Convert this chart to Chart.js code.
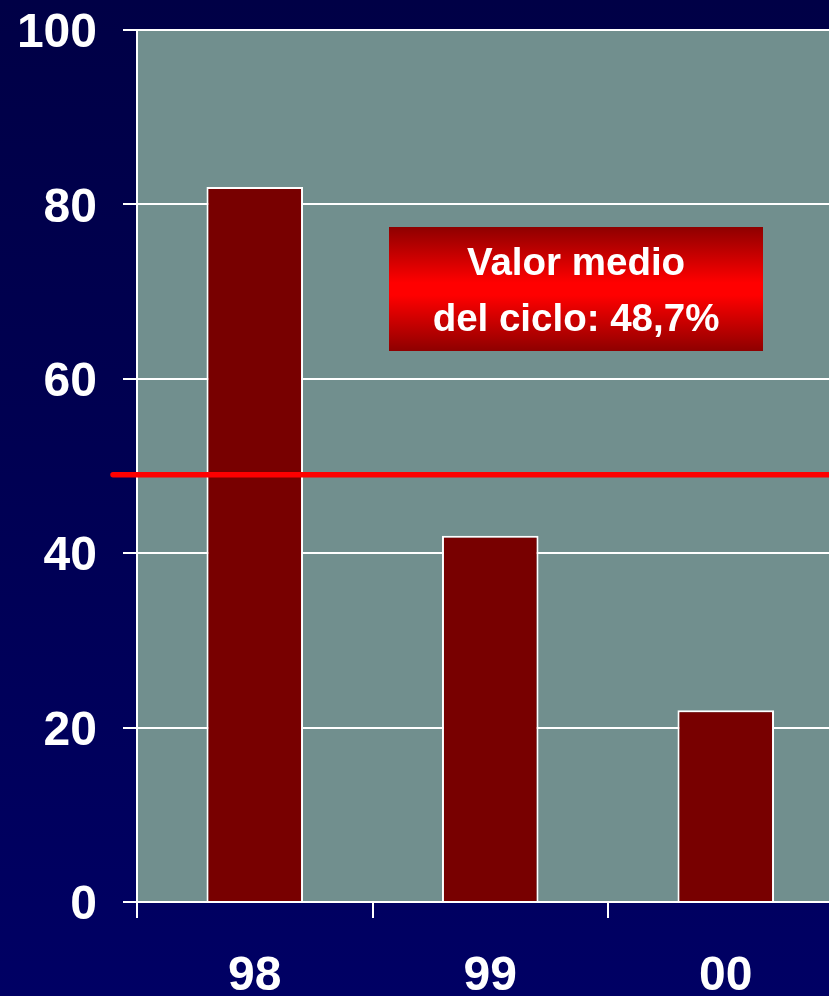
<!DOCTYPE html>
<html>
<head>
<meta charset="utf-8">
<script src="https://cdn.jsdelivr.net/npm/chart.js@4/dist/chart.umd.min.js"></script>
<style>
  html, body { margin: 0; padding: 0; }
  body {
    width: 829px; height: 996px; overflow: hidden;
    background: linear-gradient(to bottom, #000046 0%, #000052 45%, #000064 100%);
  }
  #wrap { width: 850px; height: 996px; }
</style>
</head>
<body>
<div id="wrap"><canvas id="myChart" width="850" height="996"></canvas></div>
<script>
// Data
const years = ["98", "99", "00"];
const values = [82, 42, 22];
const yTicks = [0, 20, 40, 60, 80, 100];
const meanValue = 49;
const noteLines = ["Valor medio", "del ciclo: 48,7%"];

// Plot background
const plotBg = {
  id: "plotBg",
  beforeDraw(chart) {
    const a = chart.chartArea, c = chart.ctx;
    c.save();
    c.fillStyle = "#718f8e";
    c.fillRect(a.left, a.top, a.right - a.left, a.bottom - a.top);
    c.restore();
  },
};

// Mean line + note box
const meanLine = {
  id: "meanLine",
  afterDatasetsDraw(chart) {
    const a = chart.chartArea, c = chart.ctx;
    const y = chart.scales.y.getPixelForValue(meanValue);
    c.save();
    c.strokeStyle = "#ff0000";
    c.lineWidth = 5.5;
    c.lineCap = "round";
    c.beginPath();
    c.moveTo(a.left - 24, y);
    c.lineTo(chart.width + 10, y);
    c.stroke();

    const bx = a.left + 252, by = a.top + 197, bw = 374, bh = 124;
    const g = c.createLinearGradient(0, by, 0, by + bh);
    g.addColorStop(0, "#8e0000");
    g.addColorStop(0.45, "#ff0000");
    g.addColorStop(0.55, "#ff0000");
    g.addColorStop(1, "#8e0000");
    c.fillStyle = g;
    c.fillRect(bx, by, bw, bh);

    c.fillStyle = "#ffffff";
    c.font = "bold 38.5px 'Liberation Sans', Arial, sans-serif";
    c.textAlign = "center";
    c.textBaseline = "alphabetic";
    c.fillText(noteLines[0], bx + bw / 2, by + 48);
    c.fillText(noteLines[1], bx + bw / 2, by + 104);
    c.restore();
  },
};

var ctx = document.getElementById("myChart").getContext("2d");
var myChart = new Chart(ctx, {
  type: "bar",
  data: {
    labels: years,
    datasets: [
      {
        data: values,
        backgroundColor: "#780000",
        borderColor: "#ffffff",
        borderWidth: 2,
        categoryPercentage: 1,
        barPercentage: 0.41,
      },
    ],
  },
  options: {
    responsive: false,
    animation: false,
    layout: { padding: { top: 30, right: 6.5, left: 0, bottom: 0 } },
    plugins: { legend: { display: false }, tooltip: { enabled: false } },
    scales: {
      x: {
        offset: true,
        grid: {
          offset: true,
          drawOnChartArea: false,
          color: "#ffffff",
          lineWidth: 2,
          tickLength: 16,
        },
        border: { color: "#ffffff", width: 2 },
        ticks: {
          color: "#ffffff",
          padding: 30,
          font: { family: "'Liberation Sans', Arial, sans-serif", size: 48, weight: "bold" },
        },
        afterFit: (s) => { s.height = 94; s.paddingLeft = 0; s.paddingRight = 0; },
      },
      y: {
        min: 0,
        max: 100,
        afterBuildTicks: (s) => { s.ticks = yTicks.map((v) => ({ value: v })); },
        grid: { color: "#ffffff", lineWidth: 2, tickLength: 14 },
        border: { color: "#ffffff", width: 2 },
        ticks: {
          color: "#ffffff",
          padding: 26,
          labelOffset: 4,
          font: { family: "'Liberation Sans', Arial, sans-serif", size: 48, weight: "bold" },
        },
        afterFit: (s) => { s.width = 137; s.paddingTop = 0; s.paddingBottom = 0; },
      },
    },
  },
  plugins: [plotBg, meanLine],
});
</script>
</body>
</html>
